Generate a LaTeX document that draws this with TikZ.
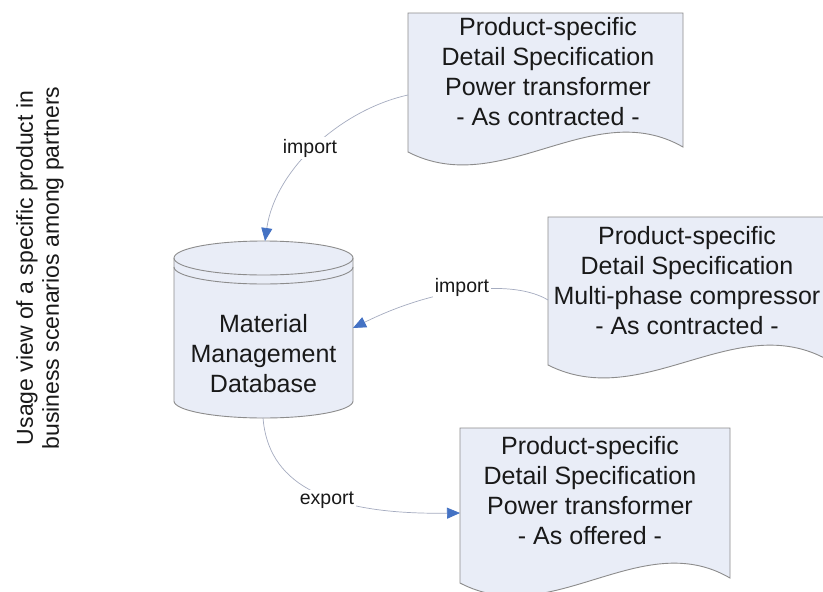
\documentclass[tikz,border=0pt]{standalone}
\usepackage{fontspec}
\setmainfont{Liberation Sans}
\usetikzlibrary{arrows.meta}
\definecolor{docfill}{RGB}{233,237,247}
\definecolor{edgegray}{RGB}{140,140,140}
\definecolor{linkgray}{RGB}{165,172,192}
\definecolor{arrowblue}{RGB}{68,114,196}
\definecolor{txt}{RGB}{25,25,25}
\newcommand{\docshape}[4]{%
  \path[docstyle] (#1,#2) -- (#1+#3,#2) -- (#1+#3,#2+#4-5)
    .. controls (#1+0.67*#3,#2+#4-57) and (#1+0.34*#3,#2+#4+48) .. (#1,#2+#4) -- cycle;}
\begin{document}
\begin{tikzpicture}[x=1pt,y=-1pt,
  docstyle/.style={fill=docfill,draw=edgegray,line width=0.9pt},
  doctext/.style={align=center,text=txt,inner sep=0pt,font=\fontsize{25}{30}\selectfont},
  link/.style={draw=linkgray,line width=0.7pt},
  tip/.style={-{Triangle[length=13pt,width=11pt,color=arrowblue]}},
  lbl/.style={fill=white,text=txt,inner sep=1.5pt,font=\fontsize{19.5}{23}\selectfont}]
\clip (0,0) rectangle (823,592);
\fill[white] (0,0) rectangle (823,592);

% side title
\node[rotate=90,align=center,text=txt,font=\fontsize{23}{26}\selectfont] (title) at (40,268)
  {Usage view of a specific product in\\business scenarios among partners};

% documents
\docshape{408}{13}{275}{139}
\node[doctext] (doc1) at (548,72) {Product-specific\\Detail Specification\\Power transformer\\- As contracted -};
\docshape{548}{217}{280}{148}
\node[doctext] (doc2) at (687,281) {Product-specific\\Detail Specification\\Multi-phase compressor\\- As contracted -};
\docshape{460}{428}{270}{155}
\node[doctext] (doc3) at (590,491) {Product-specific\\Detail Specification\\Power transformer\\- As offered -};

% database cylinder
\path[fill=docfill] (174,258) -- (174,401) .. controls (174,410.4) and (214.1,418) .. (263.5,418)
  .. controls (312.9,418) and (353,410.4) .. (353,401) -- (353,258) -- cycle;
\path[docstyle] (263.5,258) ellipse [x radius=89.5, y radius=17];
\draw[edgegray,line width=0.9pt] (174,258) -- (174,401) .. controls (174,410.4) and (214.1,418) .. (263.5,418)
  .. controls (312.9,418) and (353,410.4) .. (353,401) -- (353,258);
\draw[edgegray,line width=0.9pt] (174,267) .. controls (174,276.4) and (214.1,284) .. (263.5,284)
  .. controls (312.9,284) and (353,276.4) .. (353,267);
\node[doctext] (db) at (263.5,354) {Material\\Management\\Database};

% connector ends
\coordinate (d1w) at (408,95);
\coordinate (d2w) at (548,300);
\coordinate (d3w) at (460,513);
\coordinate (dbtop) at (265,241);
\coordinate (dbright) at (353,328);
\coordinate (dbbottom) at (263,418);

% connectors
\draw[link,tip] (d1w) .. controls (340,110) and (275,170) .. (dbtop);
\node[lbl] (l1) at (310,148) {import};
\draw[link,tip] (d2w) .. controls (515,280) and (440,285) .. (dbright);
\node[lbl] (l2) at (462,287) {import};
\draw[link,tip] (dbbottom) .. controls (268,480) and (320,515) .. (d3w);
\node[lbl] (l3) at (327,500) {export};
\end{tikzpicture}
\end{document}
